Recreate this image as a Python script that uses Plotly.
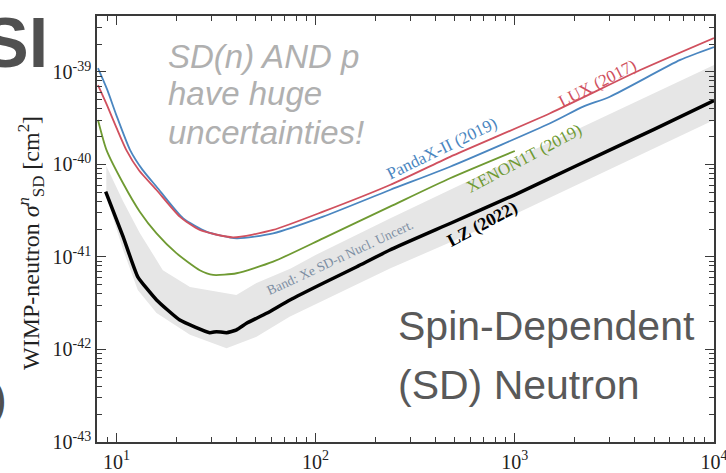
import plotly.graph_objects as go

# ---------------- data ----------------
lux_mass = [8.08, 9.0, 10.0, 11.2, 13.0, 15.9, 20.8, 26.2, 38.5, 61.2, 109, 236, 473, 1504, 4262, 10000]
lux_sigma = [7.2e-40, 4.3e-40, 2.5e-40, 1.44e-40, 8.6e-41, 5.3e-41, 2.73e-41, 1.96e-41, 1.63e-41, 1.96e-41,
             3.09e-41, 6.0e-41, 1.21e-40, 3.58e-40, 1.05e-39, 2.33e-39]

pandax_mass = [8.08, 9.0, 10.0, 11.7, 13.5, 15.9, 21.6, 28.3, 40.1, 61.2, 109, 236, 473, 1504, 2204, 3000, 6770, 10000]
pandax_sigma = [1.1e-39, 6.4e-40, 3.4e-40, 1.44e-40, 8.8e-41, 5.75e-41, 2.62e-41, 1.88e-41, 1.59e-41, 1.8e-41,
                2.73e-41, 5.3e-41, 9.46e-41, 2.79e-40, 4.22e-40, 5.4e-40, 1.35e-39, 1.86e-39]

xenon_mass = [8.08, 8.91, 10.8, 13.1, 15.9, 20.0, 26.2, 30.6, 40.1, 61.2, 109, 236, 473, 1000]
xenon_sigma = [3.03e-40, 1.44e-40, 6.27e-41, 3.09e-41, 1.8e-41, 1.1e-41, 7.2e-42, 6.4e-42, 6.67e-42, 8.9e-42,
               1.59e-41, 3.5e-41, 7.1e-41, 1.4e-40]

lz_mass = [8.83, 10.8, 12.8, 15.9, 20.8, 29.4, 31.8, 35.7, 40.1, 45.0, 56.7, 74.3, 109, 161, 236, 473, 1000, 2000, 5000, 10000]
lz_sigma = [5.08e-41, 1.66e-41, 6.1e-42, 3.43e-42, 2.08e-42, 1.52e-42, 1.56e-42, 1.52e-42, 1.63e-42, 1.92e-42,
            2.46e-42, 3.43e-42, 5.2e-42, 7.85e-42, 1.19e-41, 2.3e-41, 4.7e-41, 9.5e-41, 2.4e-40, 4.9e-40]

band_up_mass = [8.9, 10.8, 13.1, 17.1, 23.4, 40.0, 50.5, 75, 100, 236, 1000, 10000]
band_up_sigma = [9.6e-41, 4.0e-41, 1.82e-41, 7.2e-42, 4.74e-42, 3.88e-42, 5.24e-42, 7.5e-42, 1.05e-41, 2.6e-41,
                 1.15e-40, 1.19e-39]
band_lo_mass = [8.9, 10.8, 12.8, 15.9, 23.4, 35.7, 50.5, 74, 236, 1000, 10000]
band_lo_sigma = [4.5e-41, 1.2e-41, 4.4e-42, 2.48e-42, 1.44e-42, 1.03e-42, 1.37e-42, 2.26e-42, 7.5e-42, 2.9e-41, 3.03e-40]

x_major = [10, 100, 1000, 10000]
x_major_text = ["10<sup>1</sup>", "10<sup>2</sup>", "10<sup>3</sup>", "10<sup>4</sup>"]
y_major = [1e-43, 1e-42, 1e-41, 1e-40, 1e-39]
y_major_text = ["10<sup>-43</sup>", "10<sup>-42</sup>", "10<sup>-41</sup>", "10<sup>-40</sup>", "10<sup>-39</sup>"]

x_minor = [m * 10 ** e for e in range(0, 4) for m in range(2, 10)]
y_minor = [m * 10.0 ** e for e in range(-43, -38) for m in range(2, 10)]

# ---------------- figure ----------------
W, H = 726, 473
L, R, T, B = 97, 12, 16, 31
PW, PH = W - L - R, H - T - B


def px(x):
    return (x - L) / PW


def py(y):
    return (H - B - y) / PH


fig = go.Figure()

band_x = band_up_mass + band_lo_mass[::-1]
band_y = band_up_sigma + band_lo_sigma[::-1]
fig.add_trace(go.Scatter(x=band_x, y=band_y, fill="toself", fillcolor="#e6e6e6",
                         line=dict(width=0, color="#e6e6e6"), mode="lines", hoverinfo="skip"))

fig.add_trace(go.Scatter(x=xenon_mass, y=xenon_sigma, mode="lines",
                         line=dict(color="#6f9a32", width=1.8, shape="spline", smoothing=0.6)))
fig.add_trace(go.Scatter(x=pandax_mass, y=pandax_sigma, mode="lines",
                         line=dict(color="#4a86c0", width=1.8, shape="spline", smoothing=0.6)))
fig.add_trace(go.Scatter(x=lux_mass, y=lux_sigma, mode="lines",
                         line=dict(color="#d0505e", width=1.8, shape="spline", smoothing=0.6)))
fig.add_trace(go.Scatter(x=lz_mass, y=lz_sigma, mode="lines",
                         line=dict(color="#000000", width=3.5, shape="spline", smoothing=0.4)))

axis_common = dict(
    showline=True, linecolor="#3a3a3a", linewidth=1.5, mirror="ticks",
    ticks="inside", ticklen=9, tickwidth=1.2, tickcolor="#3a3a3a",
    showgrid=False, zeroline=False, automargin=False, ticklabeloverflow="allow",
    tickfont=dict(family="Liberation Serif", size=20, color="#222222"),
)

fig.update_xaxes(type="log", range=[0.9025, 4.0], tickmode="array", tickvals=x_major, ticktext=x_major_text,
                 ticklabelstandoff=1,
                 minor=dict(ticks="inside", ticklen=5, tickwidth=1, tickcolor="#3a3a3a",
                            tickmode="array", tickvals=x_minor, showgrid=False),
                 **axis_common)
fig.update_yaxes(type="log", range=[-43, -38.395], tickmode="array", tickvals=y_major, ticktext=y_major_text,
                 minor=dict(ticks="inside", ticklen=5, tickwidth=1, tickcolor="#3a3a3a",
                            tickmode="array", tickvals=y_minor, showgrid=False),
                 **axis_common)

serif = "Liberation Serif"
sans = "Liberation Sans"
ann = []


def note(x, y, text, font, angle=0, xanchor="center", yanchor="middle", align="center"):
    ann.append(dict(x=px(x), y=py(y), xref="paper", yref="paper", showarrow=False, textangle=angle,
                    xanchor=xanchor, yanchor=yanchor, align=align, text=text, font=font))


# axis title
note(31, 243, "WIMP-neutron <i>σ</i><sup><i>n</i></sup><sub>SD</sub> [cm<sup>2</sup>]",
     dict(family=serif, size=24, color="#222222"), angle=-90)

# curve labels
note(442, 149, "PandaX-II (2019)", dict(family=serif, size=17, color="#4a86c0"), angle=-26)
note(524, 158, "XENON1T (2019)", dict(family=serif, size=17, color="#6f9a32"), angle=-28)
note(597, 83, "LUX (2017)", dict(family=serif, size=17, color="#d0505e"), angle=-27)
note(482, 224, "<b>LZ (2022)</b>", dict(family=serif, size=18, color="#000000"), angle=-28)
note(340, 257, "Band: Xe SD-n Nucl. Uncert.", dict(family=serif, size=13.5, color="#7d8ea3"), angle=-25)

# overlay texts
it = dict(family=sans, size=33, color="#b0b0b0")
note(166, 56, "<i>SD(n) AND p</i>", it, xanchor="left")
note(166, 94, "<i>have huge</i>", it, xanchor="left")
note(166, 132, "<i>uncertainties!</i>", it, xanchor="left")
big = dict(family=sans, size=41, color="#595959")
note(396, 326, "Spin-Dependent", big, xanchor="left")
note(396, 385, "(SD) Neutron", big, xanchor="left")
note(50, 43, "<b>SI</b>", dict(family=sans, size=70, color="#505050"), xanchor="right")
note(9, 398, ")", dict(family=sans, size=48, color="#505050"), xanchor="right")

fig.update_layout(width=W, height=H, margin=dict(l=L, r=R, t=T, b=B, pad=0, autoexpand=False),
                  paper_bgcolor="white", plot_bgcolor="white", showlegend=False,
                  annotations=ann)

fig.write_html("out.html")
